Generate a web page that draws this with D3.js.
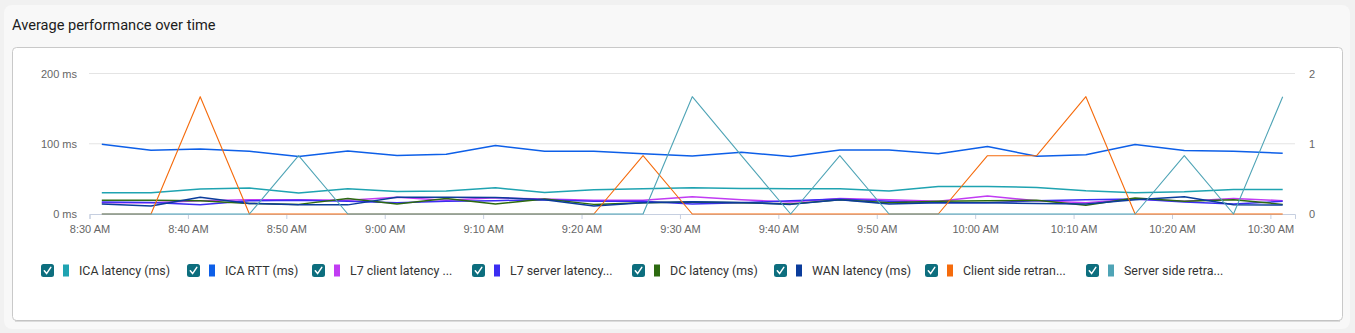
<!DOCTYPE html>
<html>
<head>
<meta charset="utf-8">
<script src="https://cdn.jsdelivr.net/npm/d3@7"></script>
<style>
  body { margin: 0; background: #f1f1f1; }
  svg { display: block; }
</style>
</head>
<body>
<svg class="perf-chart"></svg>
<script>
// sample times (one point every 5 min)
const timeLabels = ["8:31:15","8:36:15","8:41:15","8:46:15","8:51:15","8:56:15","9:01:15","9:06:15","9:11:15",
  "9:16:15","9:21:15","9:26:15","9:31:15","9:36:15","9:41:15","9:46:15","9:51:15","9:56:15","10:01:15",
  "10:06:15","10:11:15","10:16:15","10:21:15","10:26:15","10:31:15"];

// left axis series (ms)
const icaLatency = [30.3,30.3,35.5,36.9,29.8,35.9,32.1,32.6,37.3,30.7,34.5,35.9,37.3,36.4,35.9,35.9,32.6,39.2,39.2,37.8,33.1,30.3,31.7,34.9,34.9];
const icaRtt = [99.3,90.8,92.7,89.4,81.8,89.8,83.2,85,97.4,89.4,89.4,85.6,82.7,88,81.8,91.2,91.2,85.6,96,82.3,84.2,98.8,90.3,89.4,86.5];
const l7Client = [16,16,19,20.4,20.4,19.5,24,19.5,23,21.3,19.5,19.5,24.6,20.4,17,22.2,20.4,18,25.5,18.9,16,21.3,18,22.2,18.9];
const l7Server = [17,16.5,13.2,18.9,19.4,18,16,18,19,20.4,18,18,14.2,16,18.9,21.3,18,16,16,18.9,20.4,21.3,17,14.2,18];
const dcLatency = [19.4,19.4,18.9,15.1,13.7,22.2,14.2,22,14.2,21.3,13.7,16,17,16,14.2,20.4,16,18,18.9,19.5,12.3,22.7,18,20.4,13.7];
const wanLatency = [14.2,11.3,24,15.1,13.2,13,24,24,23.6,20.4,11.3,16,17.5,16.5,13.7,20.4,14.2,16,16,15.1,14.2,20.4,24.6,13.2,12.8];

// right axis series (count)
const clientRetrans = [0,0,1.67,0,0,0,0,0,0,0,0,0.83,0,0,0,0,0,0,0.83,0.83,1.67,0,0,0,0];
const serverRetrans = [0,0,0,0,0.83,0,0,0,0,0,0,0,1.67,0.83,0,0.83,0,0,0,0,0,0,0.83,0,1.67];

const seriesNames = ["ICA latency (ms)","ICA RTT (ms)","L7 client latency ...","L7 server latency...",
  "DC latency (ms)","WAN latency (ms)","Client side retran...","Server side retra..."];
const seriesColors = ["#1fa3b1","#0d5fe8","#c13cf3","#3b2df2","#2d6a10","#0b3c9b","#f56b0c","#4fa4b6"];

const leftTicks = [0, 100, 200];
const rightTicks = [0, 1, 2];

const WIDTH = 1355, HEIGHT = 333;
const parseTime = d3.timeParse("%H:%M:%S");
const times = timeLabels.map(parseTime);

const series = [
  { values: icaLatency, axis: "left", width: 1.5 },
  { values: icaRtt, axis: "left", width: 1.5 },
  { values: l7Client, axis: "left", width: 1.5 },
  { values: l7Server, axis: "left", width: 1.5 },
  { values: dcLatency, axis: "left", width: 1.5 },
  { values: wanLatency, axis: "left", width: 1.5 },
  { values: clientRetrans, axis: "right", width: 1.1 },
  { values: serverRetrans, axis: "right", width: 1.1 }
].map((s, i) => ({ ...s, name: seriesNames[i], color: seriesColors[i] }));

const svg = d3.select(".perf-chart")
  .attr("width", WIDTH)
  .attr("height", HEIGHT);

// card + inner panel
svg.append("rect")
  .attr("x", 4).attr("y", 5).attr("width", 1346).attr("height", 324)
  .attr("rx", 8).attr("fill", "#f8f8f8");
svg.append("rect")
  .attr("x", 12.5).attr("y", 47.5).attr("width", 1330).attr("height", 273)
  .attr("rx", 4).attr("fill", "#fff").attr("stroke", "#c9c9c9");
svg.append("line")
  .attr("x1", 15).attr("x2", 1340).attr("y1", 321).attr("y2", 321)
  .attr("stroke", "#bdbdbd");

svg.append("text")
  .attr("x", 12).attr("y", 30)
  .attr("font-family", "Roboto, sans-serif")
  .attr("font-size", 14.6)
  .attr("fill", "#1c1c1c")
  .text("Average performance over time");

// scales
const x = d3.scaleTime()
  .domain([parseTime("8:30:00"), parseTime("10:32:30")])
  .range([89.5, 1295]);
const yLeft = d3.scaleLinear().domain([0, 200]).range([214, 73.5]);
const yRight = d3.scaleLinear().domain([0, 2]).range([214, 73.5]);

// gridlines
svg.append("g")
  .selectAll("line")
  .data(leftTicks.filter(t => t > 0))
  .enter()
  .append("line")
  .attr("x1", 89).attr("x2", 1295)
  .attr("y1", d => yLeft(d)).attr("y2", d => yLeft(d))
  .attr("stroke", "#e4e4e4");

// x axis
const xAxis = svg.append("g")
  .attr("transform", "translate(0,214)")
  .call(d3.axisBottom(x)
    .ticks(d3.timeMinute.every(10))
    .tickFormat(d3.timeFormat("%-I:%M %p"))
    .tickSizeOuter(0)
    .tickSize(5)
    .tickPadding(6));
xAxis.select(".domain").attr("stroke", "#c6cfe0");
xAxis.selectAll(".tick line").attr("stroke", "#c6cfe0");
xAxis.selectAll("text")
  .attr("fill", "#666")
  .attr("font-family", "'Liberation Sans', Arial, sans-serif")
  .attr("font-size", 11);

// left axis
const leftAxis = svg.append("g")
  .attr("transform", "translate(77,0)")
  .call(d3.axisLeft(yLeft).tickValues(leftTicks).tickFormat(d => `${d} ms`).tickSize(0).tickPadding(0));
leftAxis.select(".domain").remove();
leftAxis.selectAll("text")
  .attr("fill", "#666")
  .attr("font-family", "'Liberation Sans', Arial, sans-serif")
  .attr("font-size", 11);

// right axis
const rightAxis = svg.append("g")
  .attr("transform", "translate(1309,0)")
  .call(d3.axisRight(yRight).tickValues(rightTicks).tickFormat(d3.format("d")).tickSize(0).tickPadding(0));
rightAxis.select(".domain").remove();
rightAxis.selectAll("text")
  .attr("fill", "#666")
  .attr("font-family", "'Liberation Sans', Arial, sans-serif")
  .attr("font-size", 11);

// lines
const lineLeft = d3.line().x((d, i) => x(times[i])).y(d => yLeft(d));
const lineRight = d3.line().x((d, i) => x(times[i])).y(d => yRight(d));

svg.append("g")
  .selectAll("path")
  .data(series)
  .enter()
  .append("path")
  .attr("fill", "none")
  .attr("stroke", d => d.color)
  .attr("stroke-width", d => d.width)
  .attr("stroke-linejoin", "round")
  .attr("d", d => (d.axis === "left" ? lineLeft : lineRight)(d.values));

// legend
const legendX = [41, 187, 312, 472, 632, 774, 925, 1086];
const legend = svg.append("g")
  .selectAll("g")
  .data(series)
  .enter()
  .append("g")
  .attr("transform", (d, i) => `translate(${legendX[i]},264)`);

legend.append("rect")
  .attr("width", 13).attr("height", 13).attr("rx", 2.5)
  .attr("fill", "#0d6e7e");
legend.append("path")
  .attr("d", "M3.3 6.8 L5.6 9.6 L9.8 3.4")
  .attr("fill", "none")
  .attr("stroke", "#fff")
  .attr("stroke-width", 1.5)
  .attr("stroke-linecap", "round");
legend.append("rect")
  .attr("x", 22).attr("y", 0.5)
  .attr("width", 6).attr("height", 12)
  .attr("fill", d => d.color);
legend.append("text")
  .attr("x", 38).attr("y", 11)
  .attr("font-family", "Roboto, sans-serif")
  .attr("font-size", 12.4)
  .attr("fill", "#333")
  .text(d => d.name);
</script>
</body>
</html>
